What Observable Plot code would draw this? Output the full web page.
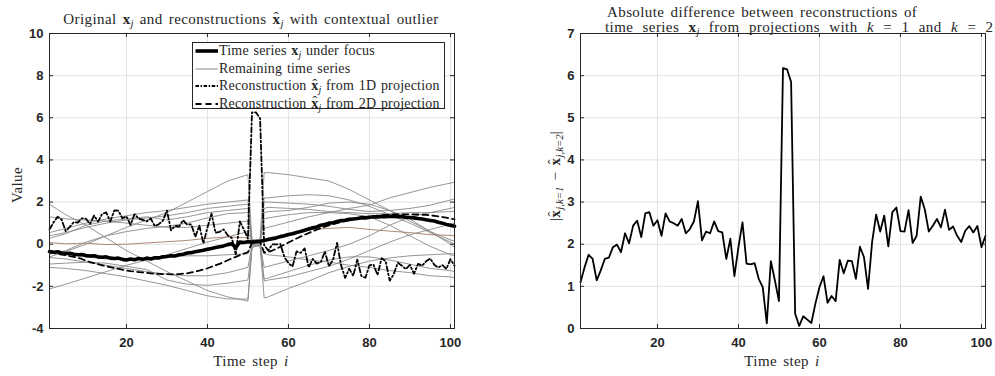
<!DOCTYPE html>
<html><head><meta charset="utf-8">
<script src="https://cdn.jsdelivr.net/npm/d3@7"></script>
<script src="https://cdn.jsdelivr.net/npm/@observablehq/plot@0.6"></script>
<style>
body{margin:0;background:#fff;}
#wrap{position:relative;width:995px;height:376px;overflow:hidden;font-family:"Liberation Serif","Times New Roman",serif;color:#262626;}
.abs{position:absolute;white-space:nowrap;line-height:1;letter-spacing:0.4px;word-spacing:2px;}
.s{font-size:0.72em;position:relative;top:0.3em;font-style:italic;letter-spacing:0;}
.hx{font-weight:bold;position:relative;display:inline-block;}
.hx::after{content:"\02C6";position:absolute;left:0.08em;top:-0.12em;font-weight:normal;font-size:1em;}
.svgbox{position:absolute;top:0;}
#legend{position:absolute;left:192px;top:42px;width:251px;height:65px;border:1px solid #262626;background:#fff;font-size:14px;letter-spacing:0.2px;word-spacing:1px;}
.row{position:absolute;left:0;height:17.6px;line-height:17.6px;white-space:nowrap;}
.row svg{position:absolute;left:2px;top:3px;}
.row span.t{position:absolute;left:26px;top:0;}
</style></head><body><div id="wrap"></div>
<script>
// ---------- data ----------
const steps = [1,2,3,4,5,6,7,8,9,10,11,12,13,14,15,16,17,18,19,20,21,22,23,24,25,26,27,28,29,30,31,32,33,34,35,36,37,38,39,40,41,42,43,44,45,46,47,48,49,50,51,52,53,54,55,56,57,58,59,60,61,62,63,64,65,66,67,68,69,70,71,72,73,74,75,76,77,78,79,80,81,82,83,84,85,86,87,88,89,90,91,92,93,94,95,96,97,98,99,100,101];

const focusSeries = [-0.35,-0.38,-0.36,-0.42,-0.44,-0.43,-0.48,-0.50,-0.49,-0.54,
-0.56,-0.55,-0.60,-0.62,-0.60,-0.66,-0.68,-0.66,-0.72,-0.75,
-0.70,-0.74,-0.68,-0.71,-0.66,-0.70,-0.64,-0.65,-0.60,-0.58,
-0.55,-0.56,-0.50,-0.48,-0.42,-0.40,-0.36,-0.32,-0.29,-0.24,
-0.20,-0.16,-0.12,-0.08,-0.02,0.02,-0.15,0.10,0.08,0.12,
0.10,0.12,0.14,0.18,0.22,0.26,0.30,0.36,0.40,0.46,
0.50,0.56,0.60,0.66,0.72,0.78,0.82,0.90,0.94,1.00,
1.02,1.08,1.12,1.14,1.18,1.20,1.22,1.26,1.25,1.28,
1.30,1.29,1.32,1.30,1.33,1.32,1.30,1.31,1.28,1.27,
1.25,1.22,1.20,1.16,1.13,1.10,1.04,1.00,0.94,0.90,
0.85];

const recon1D = [0.71,1.03,1.30,1.16,0.62,0.82,1.05,1.03,1.23,1.21,
0.96,1.36,1.07,1.44,1.51,1.08,1.60,1.59,1.23,1.32,
0.92,1.43,1.22,1.16,1.08,1.22,0.86,0.95,1.12,1.60,
0.66,0.87,0.84,1.14,0.93,0.94,0.35,0.88,0.04,0.79,
1.45,0.54,0.59,0.70,0.42,0.30,-0.48,1.08,0.69,0.27,
6.26,6.25,5.97,-0.05,-0.30,-0.01,-0.01,0.01,-0.61,-0.90,
-1.06,-0.34,-0.41,-0.20,-1.10,-0.70,-0.92,-0.84,-0.35,-1.05,
-0.74,0.06,-1.00,-1.60,-1.16,-1.50,-0.73,-1.51,-1.59,-1.00,
-0.97,-1.46,-0.66,-0.81,-1.73,-1.42,-0.88,-1.02,-1.18,-0.98,
-1.40,-0.93,-1.02,-0.81,-0.68,-0.97,-1.11,-0.99,-1.17,-0.71,
-1.02];

const recon2D = [-0.39,-0.42,-0.45,-0.49,-0.52,-0.56,-0.60,-0.65,-0.70,-0.78,
-0.85,-0.90,-0.95,-1.00,-1.05,-1.09,-1.13,-1.17,-1.21,-1.25,
-1.28,-1.30,-1.32,-1.34,-1.36,-1.38,-1.40,-1.41,-1.42,-1.42,
-1.43,-1.43,-1.42,-1.40,-1.38,-1.34,-1.30,-1.25,-1.20,-1.14,
-1.07,-1.00,-0.93,-0.85,-0.76,-0.68,-0.60,-0.52,-0.45,-0.38,
0.08,0.10,0.12,-0.40,-0.36,-0.30,-0.22,-0.12,-0.02,0.08,
0.18,0.27,0.36,0.45,0.53,0.61,0.69,0.76,0.83,0.89,
0.95,1.00,1.05,1.10,1.14,1.18,1.22,1.25,1.28,1.31,
1.33,1.35,1.37,1.39,1.40,1.41,1.42,1.42,1.42,1.42,
1.42,1.41,1.40,1.39,1.37,1.35,1.32,1.29,1.26,1.22,
1.18];

const absDiff = [1.10,1.45,1.75,1.65,1.14,1.38,1.65,1.68,1.93,1.99,
1.81,2.26,2.02,2.44,2.56,2.17,2.73,2.76,2.44,2.57,
2.20,2.73,2.54,2.50,2.44,2.60,2.26,2.36,2.54,3.02,
2.09,2.30,2.26,2.54,2.31,2.28,1.65,2.13,1.24,1.93,
2.52,1.54,1.52,1.55,1.18,0.98,0.12,1.60,1.14,0.65,
6.18,6.15,5.85,0.35,0.06,0.29,0.21,0.13,0.59,0.98,
1.24,0.61,0.77,0.65,1.63,1.31,1.61,1.60,1.18,1.94,
1.69,0.94,2.05,2.70,2.30,2.68,1.95,2.76,2.87,2.31,
2.30,2.81,2.03,2.20,3.13,2.83,2.30,2.44,2.60,2.40,
2.82,2.34,2.42,2.20,2.05,2.32,2.43,2.28,2.43,1.93,
2.20];

// remaining series, sampled at these time steps
const otherSteps = [1,5,10,15,20,25,30,35,40,45,50,51,52,53,54,55,60,65,70,75,80,85,90,95,100,101];
const seriesA = [-0.60,-0.35,0.00,0.40,0.80,1.15,1.50,2.00,2.50,3.00,3.30,0.15,0.18,0.20,3.40,3.40,3.30,3.15,3.00,2.60,2.10,1.60,1.10,0.60,0.20,0.15];
const seriesB = [1.90,1.40,0.90,0.30,-0.30,-0.80,-1.30,-1.75,-2.20,-2.50,-2.70,-0.15,-0.10,-0.08,-2.55,-2.50,-2.10,-1.75,-1.35,-1.05,-0.80,-0.65,-0.55,-0.50,-0.45,-0.45];
const seriesC = [-1.10,-1.15,-1.25,-1.40,-1.55,-1.75,-1.95,-2.20,-2.45,-2.60,-2.60,-0.10,-0.05,-0.02,-1.75,-1.70,-1.55,-1.30,-1.05,-0.70,-0.30,0.10,0.45,0.70,0.95,1.00];
const seriesD = [-2.12,-1.90,-1.60,-1.30,-1.00,-0.75,-0.50,-0.20,0.10,0.35,0.60,0.10,0.12,0.14,0.75,0.80,1.05,1.30,1.50,1.70,1.85,2.20,2.45,2.70,2.90,2.95];
const seriesE = [0.55,0.75,1.00,1.20,1.35,1.50,1.60,1.75,1.90,2.00,2.10,0.20,0.22,0.22,2.20,2.20,2.30,2.35,2.30,2.10,1.80,1.40,1.00,0.55,0.10,0.00];
const seriesF = [0.40,0.55,0.80,1.00,1.15,1.25,1.35,1.50,1.70,1.80,1.90,0.05,0.08,0.10,2.00,2.00,1.95,1.90,1.80,1.65,1.55,1.60,1.70,1.85,2.10,2.15];
const seriesG = [0.28,0.50,0.90,1.10,1.20,1.30,1.15,1.30,1.50,1.60,1.70,0.12,0.15,0.16,1.70,1.75,1.70,1.65,1.55,1.50,1.45,1.45,1.50,1.50,1.55,1.55];
const seriesH = [-0.47,-0.30,0.10,0.40,0.60,0.75,0.85,1.00,1.25,1.45,1.50,0.00,0.04,0.06,1.50,1.55,1.60,1.75,1.95,2.00,1.90,1.60,1.20,0.60,0.00,-0.15];
const seriesI = [-0.63,-0.70,-0.85,-1.00,-1.15,-1.30,-1.42,-1.50,-1.50,-1.35,-1.10,-0.05,0.00,0.02,-1.10,-1.05,-0.80,-0.55,-0.30,0.00,0.40,0.90,1.30,1.50,1.70,1.75];
const seriesJ = [-0.94,-0.90,-0.85,-0.90,-1.05,-1.20,-1.70,-1.90,-1.95,-1.85,-1.70,-0.12,-0.08,-0.05,-1.65,-1.60,-1.30,-1.00,-0.75,-0.60,-0.60,-0.75,-0.95,-1.15,-1.25,-1.30];
const seriesK = [1.30,1.20,1.15,1.10,1.00,0.90,0.80,0.80,0.90,1.00,1.10,0.18,0.20,0.21,1.20,1.25,1.40,1.50,1.50,1.45,1.30,0.90,0.40,-0.10,-0.50,-0.55];
const seriesL = [-0.30,-0.45,-0.60,-0.70,-0.75,-0.70,-0.60,-0.55,-0.55,-0.50,-0.45,-0.02,0.02,0.04,-0.45,-0.50,-0.60,-0.75,-0.85,-1.00,-1.10,-1.25,-1.35,-1.50,-1.55,-1.60];
const seriesBrown = [0.08,0.02,0.05,-0.02,0.00,0.06,0.12,0.18,0.28,0.35,0.30,0.05,0.08,0.10,0.20,0.30,0.50,0.68,0.75,0.80,0.70,0.62,0.55,0.45,0.42,0.40];

const xTicks = [20,40,60,80,100];
const yTicksLeft = [-4,-2,0,2,4,6,8,10];
const yTicksRight = [0,1,2,3,4,5,6,7];

// ---------- build ----------
const wrap = document.getElementById("wrap");
const AX = "#262626", GRID = "#e2e2e2";
const H = 376, mT = 33, mB = 48, innerH = H - mT - mB;

const grayRows = [seriesA,seriesB,seriesC,seriesD,seriesE,seriesF,seriesG,seriesH,seriesI,seriesJ,seriesK,seriesL]
  .flatMap((ys, k) => ys.map((v, i) => ({x: otherSteps[i], y: v, s: k})));
const brownRows = seriesBrown.map((v, i) => ({x: otherSteps[i], y: v}));
const rows = (arr) => arr.map((v, i) => ({x: steps[i], y: v}));

function frameMarks(yTicks, innerW) {
  return [
    Plot.tickX(xTicks, {x: d => d, insetTop: innerH - 4, stroke: AX}),
    Plot.tickX(xTicks, {x: d => d, insetBottom: innerH - 4, stroke: AX}),
    Plot.tickY(yTicks, {y: d => d, insetRight: innerW - 4, stroke: AX}),
    Plot.tickY(yTicks, {y: d => d, insetLeft: innerW - 4, stroke: AX}),
    Plot.frame({stroke: AX, strokeWidth: 1}),
    Plot.axisX({ticks: xTicks, tickSize: 0, tickPadding: 9, label: null, tickFormat: d => String(d)}),
    Plot.axisY({ticks: yTicks, tickSize: 0, tickPadding: 6, label: null, tickFormat: d => String(d)})
  ];
}
const baseStyle = {fontFamily: "'Liberation Sans', Arial, sans-serif", fontSize: "13px", fontWeight: "bold", color: AX, background: "transparent", overflow: "visible"};

const W1 = 480, mL1 = 49, mR1 = 26;
const leftPlot = Plot.plot({
  width: W1, height: H, marginTop: mT, marginBottom: mB, marginLeft: mL1, marginRight: mR1,
  x: {domain: [1, 101]}, y: {domain: [-4, 10]},
  style: baseStyle,
  marks: [
    Plot.gridX({ticks: xTicks, stroke: GRID, strokeOpacity: 1}),
    Plot.gridY({ticks: yTicksLeft, stroke: GRID, strokeOpacity: 1}),
    Plot.line(grayRows, {x: "x", y: "y", z: "s", stroke: "#8a8a8a", strokeWidth: 0.9}),
    Plot.line(brownRows, {x: "x", y: "y", stroke: "#a57a6a", strokeWidth: 0.9}),
    Plot.line(rows(focusSeries), {x: "x", y: "y", stroke: "#000", strokeWidth: 3.6}),
    Plot.line(rows(recon1D), {x: "x", y: "y", stroke: "#000", strokeWidth: 1.8, strokeDasharray: "5,2.5,1.5,2.5"}),
    Plot.line(rows(recon2D), {x: "x", y: "y", stroke: "#000", strokeWidth: 1.8, strokeDasharray: "6,4"}),
    ...frameMarks(yTicksLeft, W1 - mL1 - mR1)
  ]
});
leftPlot.classList.add("svgbox"); leftPlot.style.left = "0px";
wrap.appendChild(leftPlot);

const W2 = 495, mL2 = 80, mR2 = 10;
const rightPlot = Plot.plot({
  width: W2, height: H, marginTop: mT, marginBottom: mB, marginLeft: mL2, marginRight: mR2,
  x: {domain: [1, 101]}, y: {domain: [0, 7]},
  style: baseStyle,
  marks: [
    Plot.gridX({ticks: xTicks, stroke: GRID, strokeOpacity: 1}),
    Plot.gridY({ticks: yTicksRight, stroke: GRID, strokeOpacity: 1}),
    Plot.line(rows(absDiff), {x: "x", y: "y", stroke: "#000", strokeWidth: 1.8}),
    ...frameMarks(yTicksRight, W2 - mL2 - mR2)
  ]
});
rightPlot.classList.add("svgbox"); rightPlot.style.left = "500px";
wrap.appendChild(rightPlot);

// ---------- texts ----------
function addText(html, x, y, {anchor = "middle", rotate = 0, size = 15, ws = null} = {}) {
  const d = document.createElement("div");
  d.className = "abs";
  d.style.left = x + "px"; d.style.top = y + "px"; d.style.fontSize = size + "px";
  if (ws != null) d.style.wordSpacing = ws + "px";
  const tx = anchor === "middle" ? "-50%" : anchor === "end" ? "-100%" : "0";
  d.style.transform = `translate(${tx},-50%)` + (rotate ? ` rotate(${rotate}deg)` : "");
  d.innerHTML = html;
  wrap.appendChild(d);
}
const xb = "<b>x</b>", xh = `<span class="hx">x</span>`;
addText(`Original ${xb}<span class="s">j</span> and reconstructions ${xh}<span class="s">j</span> with contextual outlier`, 251, 19);
addText(`Absolute difference between reconstructions of`, 607, 12, {anchor: "start"});
addText(`time series ${xb}<span class="s">j</span> from projections with <i>k</i> = 1 and <i>k</i> = 2`, 605, 27, {anchor: "start", ws: 5.2});
addText(`Time step <i>i</i>`, 251, 361);
addText(`Time step <i>i</i>`, 782, 361);
addText(`Value`, 17, 185, {rotate: -90});
addText(`|${xh}<span class="s">j,k=1</span> \u2212 ${xh}<span class="s">j,k=2</span>|`, 555, 176, {rotate: -90, size: 15});

// ---------- legend ----------
const legendItems = [
  {html: `Time series ${xb}<span class="s">j</span> under focus`, w: 3.6, dash: null, color: "#000"},
  {html: `Remaining time series`, w: 1, dash: null, color: "#8a8a8a"},
  {html: `Reconstruction ${xh}<span class="s">j</span> from 1D projection`, w: 1.8, dash: "3.5,1.6,1.4,1.6", color: "#000"},
  {html: `Reconstruction ${xh}<span class="s">j</span> from 2D projection`, w: 1.8, dash: "6,4", color: "#000"}
];
const leg = document.createElement("div"); leg.id = "legend"; wrap.appendChild(leg);
legendItems.forEach((it, i) => {
  const r = document.createElement("div"); r.className = "row"; r.style.top = (-1 + 17.6 * i) + "px";
  r.innerHTML = `<svg width="24" height="12"><line x1="0.5" y1="6" x2="23" y2="6" stroke="${it.color}" stroke-width="${it.w}" ${it.dash ? `stroke-dasharray="${it.dash}"` : ""}/></svg><span class="t">${it.html}</span>`;
  leg.appendChild(r);
});
</script>
</body></html>
